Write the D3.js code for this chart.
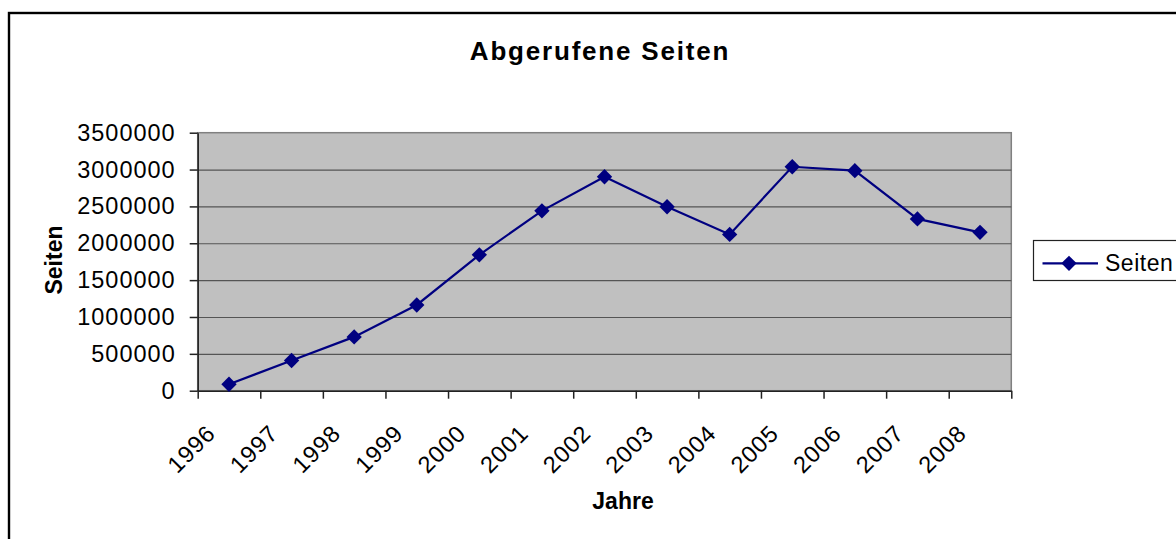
<!DOCTYPE html>
<html>
<head>
<meta charset="utf-8">
<script src="https://cdn.jsdelivr.net/npm/d3@7"></script>
<style>
  body { margin: 0; background: #fff; }
  svg { display: block; font-family: "Liberation Sans", Arial, sans-serif; }
</style>
</head>
<body>
<div class="graph"></div>
<script>
let years = ["1996", "1997", "1998", "1999", "2000", "2001", "2002", "2003", "2004", "2005", "2006", "2007", "2008"];
let seiten = [88000, 410000, 730000, 1163000, 1843000, 2440000, 2903000, 2496000, 2120000, 3038000, 2985000, 2330000, 2148000];
let yTicks = [0, 500000, 1000000, 1500000, 2000000, 2500000, 3000000, 3500000];

let W = 1176, H = 539;
let margin = {top: 132.7, left: 197.7},
    width = 1011.3 - 197.7,
    height = 390.7 - 132.7;

let svg = d3.select(".graph").append("svg")
    .attr("width", W)
    .attr("height", H);

// chart frame (runs off the page at right and bottom)
svg.append("rect")
    .attr("x", 9).attr("y", 13)
    .attr("width", W + 20).attr("height", H + 20)
    .attr("fill", "#fff")
    .attr("stroke", "#000")
    .style("stroke-width", "2.4px");

let g = svg.append("g")
    .attr("transform", "translate(" + margin.left + "," + margin.top + ")");

let x = d3.scaleBand().domain(years).range([0, width]).padding(0);
let xEdge = d3.scaleLinear().domain([0, years.length]).range([0, width]);
let y = d3.scaleLinear().domain([0, 3500000]).range([height, 0]);

// plot area
g.append("rect")
    .attr("width", width).attr("height", height)
    .attr("fill", "#c0c0c0")
    .attr("stroke", "#808080")
    .style("stroke-width", "1.5px");

// gridlines
g.append("g")
    .call(d3.axisLeft(y).tickValues(yTicks.slice(1, -1)).tickSize(-width).tickFormat(""))
    .call(s => s.select(".domain").remove())
    .selectAll("line")
    .attr("stroke", "#555")
    .style("stroke-width", "1.2px");

// y axis
let yAxis = g.append("g")
    .call(d3.axisLeft(y).tickValues(yTicks).tickSize(8).tickSizeOuter(0).tickPadding(14).tickFormat(d => d));
yAxis.select(".domain").attr("stroke", "#222").style("stroke-width", "1.5px");
yAxis.selectAll("line").attr("stroke", "#222").style("stroke-width", "1.5px");
yAxis.selectAll("text")
    .attr("fill", "#000")
    .style("font-size", "23.5px")
    .style("letter-spacing", "1px");

// x axis ticks at category boundaries
let xAxis = g.append("g")
    .attr("transform", "translate(0," + height + ")")
    .call(d3.axisBottom(xEdge).tickValues(d3.range(years.length + 1)).tickSize(8).tickSizeOuter(0).tickFormat(""));
xAxis.select(".domain").attr("stroke", "#222").style("stroke-width", "1.5px");
xAxis.selectAll("line").attr("stroke", "#222").style("stroke-width", "1.5px");

// rotated category labels
g.append("g")
    .selectAll("text")
    .data(years)
    .enter().append("text")
    .attr("transform", d => "translate(" + (x(d) + x.bandwidth() / 2 - 12) + "," + (height + 44) + ") rotate(-45)")
    .attr("text-anchor", "end")
    .style("font-size", "23.5px")
    .style("letter-spacing", "1px")
    .text(d => d);

// line
let line = d3.line()
    .x((d, i) => x(years[i]) + x.bandwidth() / 2)
    .y(d => y(d));

g.append("path")
    .datum(seiten)
    .attr("d", line)
    .attr("fill", "none")
    .attr("stroke", "#000080")
    .style("stroke-width", "2.2px");

let diamond = d3.symbol().type(d3.symbolDiamond2).size(150);

g.selectAll(".marker")
    .data(seiten)
    .enter().append("path")
    .attr("class", "marker")
    .attr("d", diamond)
    .attr("transform", (d, i) => "translate(" + (x(years[i]) + x.bandwidth() / 2) + "," + y(d) + ")")
    .attr("fill", "#000080");

// titles
svg.append("text")
    .attr("x", 600).attr("y", 59.5)
    .attr("text-anchor", "middle")
    .style("font-size", "26px")
    .style("font-weight", "bold")
    .style("letter-spacing", "1.8px")
    .text("Abgerufene Seiten");

svg.append("text")
    .attr("x", 623).attr("y", 508.5)
    .attr("text-anchor", "middle")
    .style("font-size", "23px")
    .style("font-weight", "bold")
    .text("Jahre");

svg.append("text")
    .attr("transform", "translate(61.5,260) rotate(-90)")
    .attr("text-anchor", "middle")
    .style("font-size", "23px")
    .style("font-weight", "bold")
    .text("Seiten");

// legend
let legend = svg.append("g");
legend.append("rect")
    .attr("x", 1033.5).attr("y", 240.5)
    .attr("width", 200).attr("height", 40)
    .attr("fill", "#fff")
    .attr("stroke", "#222")
    .style("stroke-width", "1.2px");
legend.append("line")
    .attr("x1", 1042.5).attr("x2", 1098)
    .attr("y1", 263.3).attr("y2", 263.3)
    .attr("stroke", "#000080")
    .style("stroke-width", "2.2px");
legend.append("path")
    .attr("d", diamond)
    .attr("transform", "translate(1069,263.3)")
    .attr("fill", "#000080");
legend.append("text")
    .attr("x", 1105).attr("y", 270.5)
    .style("font-size", "23px")
    .style("letter-spacing", "0.5px")
    .text("Seiten");
</script>
</body>
</html>
